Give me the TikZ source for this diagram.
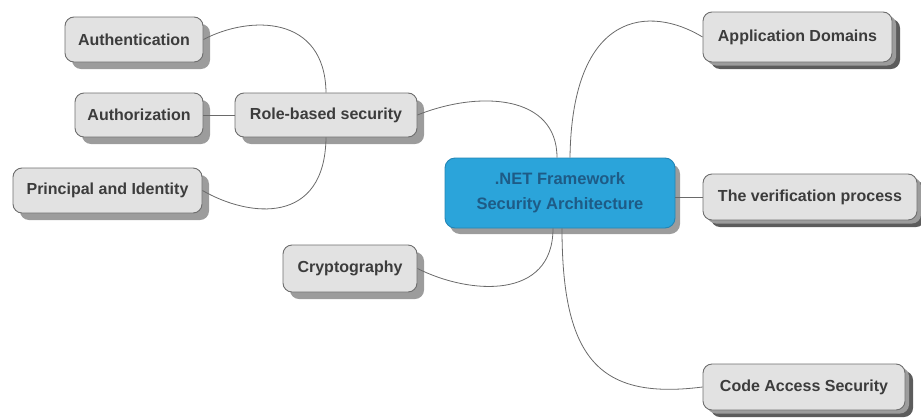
\documentclass[tikz,border=0pt]{standalone}
\usepackage{fontspec}
\setmainfont{Liberation Sans}
\usetikzlibrary{shadows}
\definecolor{boxfill}{HTML}{E2E2E2}
\definecolor{boxline}{HTML}{6E6E6E}
\definecolor{boxtext}{HTML}{3C3C3C}
\definecolor{ctrfill}{HTML}{2BA4DA}
\definecolor{ctrline}{HTML}{2385B5}
\definecolor{ctrtext}{HTML}{1E5B86}
\definecolor{wirecol}{HTML}{6A6A6A}
\definecolor{shadowA}{HTML}{9C9C9C}
\definecolor{shadowB}{HTML}{5C5C5C}
\tikzset{
  topic/.style={draw=boxline, fill=boxfill, line width=0.9pt, rounded corners=9pt,
    text=boxtext, font=\fontsize{16}{19}\selectfont\bfseries, inner sep=0pt},
  lefttopic/.style={topic, general shadow={shadow xshift=7pt, shadow yshift=-7pt, fill=shadowA, draw=none}},
  righttopic/.style={topic,
    general shadow={shadow xshift=8pt, shadow yshift=-7pt, fill=shadowB, draw=none},
    general shadow={shadow xshift=4pt, shadow yshift=-3.5pt, fill=shadowA, draw=none}},
  central/.style={draw=ctrline, fill=ctrfill, line width=0.9pt, rounded corners=10pt,
    text=ctrtext, font=\fontsize{16.5}{25}\selectfont\bfseries, align=center, inner sep=0pt,
    general shadow={shadow xshift=5pt, shadow yshift=-6pt, fill=shadowA, draw=none}},
  wire/.style={draw=wirecol, line width=0.8pt}
}
\begin{document}
\begin{tikzpicture}[x=1pt,y=-1pt]
\useasboundingbox (0,0) rectangle (921,418);
% left branch
\node[lefttopic, minimum width=138pt, minimum height=45pt] (auth) at (134,39.5) {Authentication};
\node[lefttopic, minimum width=128pt, minimum height=44pt] (authz) at (139,115) {Authorization};
\node[lefttopic, minimum width=182pt, minimum height=44pt] (role) at (326,115) {Role-based security};
\node[lefttopic, minimum width=189pt, minimum height=45pt] (princ) at (107.5,190.5) {Principal and Identity};
\node[lefttopic, minimum width=134pt, minimum height=47pt] (crypto) at (350,268.5) {Cryptography};
% center
\node[central, minimum width=230pt, minimum height=70pt] (ctr) at (560,193) {.NET Framework\\Security Architecture};
% right branch
\node[righttopic, minimum width=189pt, minimum height=50pt] (appdom) at (797.5,37) {Application Domains};
\node[righttopic, minimum width=214pt, minimum height=46pt] (verif) at (810,197) {The verification process};
\node[righttopic, minimum width=202pt, minimum height=46pt] (cas) at (804,387) {Code Access Security};
% connectors
\draw[wire] (auth.east) .. controls (250,15) and (325,15) .. (role.north);
\draw[wire] (authz.east) -- (role.west);
\draw[wire] (princ.east) .. controls (250,218) and (325,225) .. (role.south);
\draw[wire] (role.east) .. controls (480,90) and (557,95) .. ([xshift=-3pt]ctr.north);
\draw[wire] ([xshift=10pt]ctr.north) .. controls (572,10) and (650,5) .. (appdom.west);
\draw[wire] (ctr.east |- verif.west) -- (verif.west);
\draw[wire] ([xshift=-7pt]ctr.south) .. controls (553,300) and (470,295) .. (crypto.east);
\draw[wire] ([xshift=2pt]ctr.south) .. controls (562,360) and (600,400) .. (cas.west);
\end{tikzpicture}
\end{document}
